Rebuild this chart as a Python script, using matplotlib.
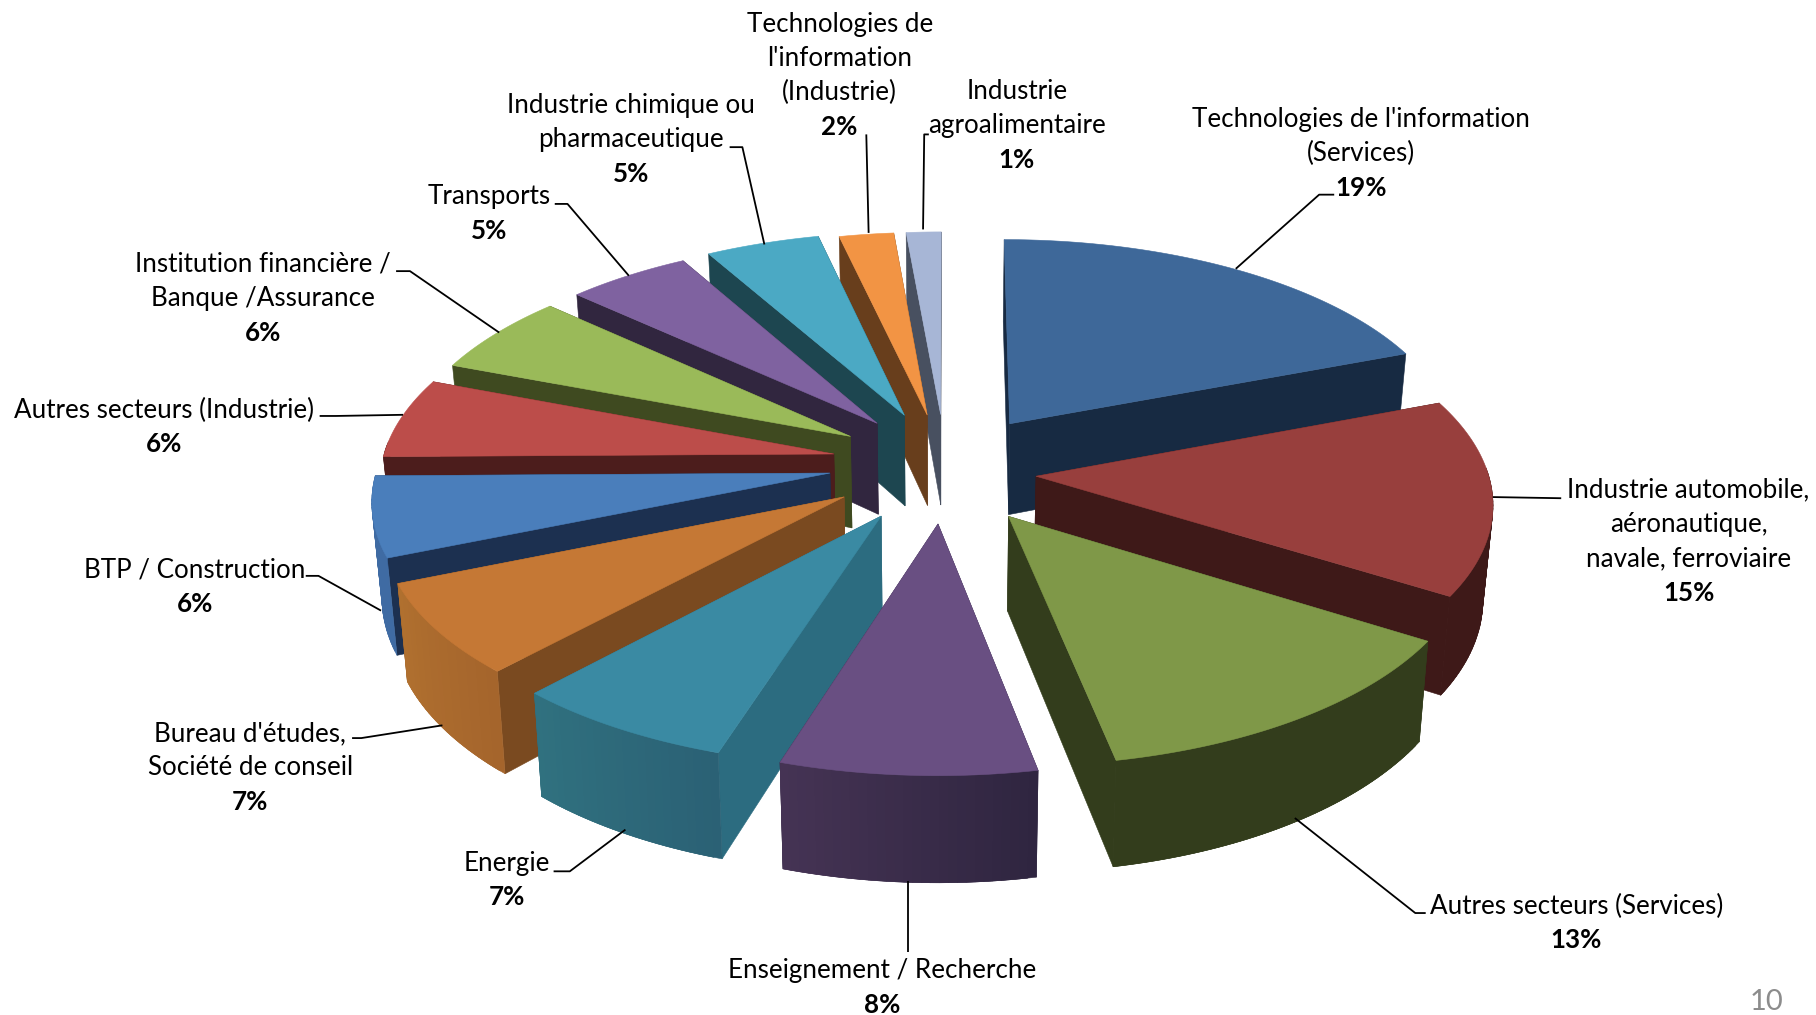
import numpy as np
import matplotlib
matplotlib.use("Agg")
import matplotlib.pyplot as plt
from matplotlib.colors import to_rgb
from matplotlib.patches import Polygon

# ---- data ----
sectors = [
    ["Technologies de l'information", "(Services)"],
    ["Industrie automobile,", "aéronautique,", "navale, ferroviaire"],
    ["Autres secteurs (Services)"],
    ["Enseignement / Recherche"],
    ["Energie"],
    ["Bureau d'études,", "Société de conseil"],
    ["BTP / Construction"],
    ["Autres secteurs (Industrie)"],
    ["Institution financière /", "Banque /Assurance"],
    ["Transports"],
    ["Industrie chimique ou", "pharmaceutique"],
    ["Technologies de", "l'information", "(Industrie)"],
    ["Industrie", "agroalimentaire"],
]
values = [19.2, 14.7, 13.0, 8.0, 7.0, 6.9, 6.0, 6.0, 6.0, 5.0, 4.6, 2.2, 1.4]

# ---- style ----
top_col = ["#3E6899", "#983F3D", "#7F9848", "#694F82", "#3A8AA3", "#C57835", "#4A7EBB",
           "#BC4D4A", "#9ABA59", "#7F62A0", "#4BA9C4", "#F29444", "#A7B6D6"]
cut_col = ["#172A42", "#3E1918", "#333D1C", "#2E2340", "#2C6C80", "#7A4A20", "#1C3050",
           "#4C1D1C", "#3F4A20", "#31263F", "#1D4650", "#683E1C", "#485060"]
rim_a = ["#2A4568", "#3E1918", "#333D1C", "#2F2540", "#2B6175", "#A5652C", "#3F6BA3",
         "#4C1D1C", "#3F4A20", "#31263F", "#1D4650", "#683E1C", "#485060"]
rim_b = ["#2A4568", "#3E1918", "#333D1C", "#453354", "#30717F", "#B0702F", "#3F6BA3",
         "#4C1D1C", "#3F4A20", "#31263F", "#1D4650", "#683E1C", "#485060"]

CX, CY = 808.0, 401.0
SCALE = 390.0
TILT = 0.47
PERSP = 0.11
EXPLODE = 0.225
DEPTH = 80.0
SHRINK = 0.982
nudge = [(15, -2), (-1, 6), (12, 10), (7, 9), (-2, 8), (-6, 4), (-5, -1), (-2, -2), (0, -3), (3, -4),
         (4, -5), (6, -3), (8, -3)]

label_pos = [
    (1175, 103), (1458, 423), (1361, 782), (762, 838), (438, 745), (216, 633), (168, 492),
    (142, 354), (227, 228), (422, 170), (545, 91), (725, 21), (878, 79),
]
leaders = [
    [(1152, 168), (1139, 168), (1067, 232)],
    [(1348, 430), (1289, 429)],
    [(1231, 788), (1222, 788), (1118, 706)],
    [(784, 822), (784, 760)],
    [(478, 752), (492, 752), (540, 716)],
    [(304, 637), (312, 637), (382, 626)],
    [(264, 497), (275, 497), (329, 527)],
    [(276, 359), (290, 359), (348, 358)],
    [(342, 234), (354, 234), (431, 287)],
    [(479, 176), (490, 176), (543, 238)],
    [(630, 127), (641, 127), (660, 211)],
    [(748, 116), (750, 201)],
    [(802, 116), (798, 116), (797, 198)],
]
LINE = 29.5

plt.rcParams["font.family"] = ["Lato", "DejaVu Sans"]
fig = plt.figure(figsize=(18.16, 10.15), dpi=100, facecolor="white")
ax = fig.add_axes([0, 0, 1, 1])
ax.set_xlim(0, 1568)
ax.set_ylim(876, 0)
ax.axis("off")


def project(X, Y, z=0.0):
    X = np.asarray(X, float)
    Y = np.asarray(Y, float)
    p = 1.0 / (1.0 + PERSP * Y)
    k = 1.0 - (1.0 - SHRINK) * z
    return CX + X * SCALE * p * k, CY - Y * TILT * SCALE * p + z * DEPTH * p


def face(xs, ys, color, zorder):
    ax.add_patch(Polygon(np.column_stack([xs, ys]), closed=True, facecolor=color,
                         edgecolor=color, linewidth=0.4, zorder=zorder))


fracs = np.array(values, float) / sum(values)
ends = np.cumsum(fracs) * 2 * np.pi
starts = ends - fracs * 2 * np.pi
mids = (starts + ends) / 2
order = np.argsort(-np.cos(mids))

for rank, i in enumerate(order):
    z0 = 10 + rank * 10
    a0, a1, m = starts[i], ends[i], mids[i]
    ox, oy = EXPLODE * np.sin(m), EXPLODE * np.cos(m)
    dx, dy = nudge[i]
    th = np.linspace(a0, a1, max(6, int((a1 - a0) * 60)))
    RX, RY = ox + np.sin(th), oy + np.cos(th)

    def proj(X, Y, z):
        x, y = project(X, Y, z)
        return x + dx, y + dy

    # cut faces
    for ang in (a0, a1):
        ex, ey = ox + np.sin(ang), oy + np.cos(ang)
        x1, y1 = proj([ox, ex], [oy, ey], 0)
        x2, y2 = proj([ex, ox], [ey, oy], 1)
        face(np.r_[x1, x2], np.r_[y1, y2], cut_col[i], z0)

    # outer rim: only the part that faces the viewer, shaded along the arc
    c0, c1 = np.array(to_rgb(rim_a[i])), np.array(to_rgb(rim_b[i]))
    n = len(th) - 1
    for j in range(n):
        if np.cos(th[j]) > 0.03 and np.cos(th[j + 1]) > 0.03:
            continue
        t = j / max(1, n - 1)
        e = min(j + 3, len(th))
        x1, y1 = proj(RX[j:e], RY[j:e], 0)
        x2, y2 = proj(RX[j:e][::-1], RY[j:e][::-1], 1)
        face(np.r_[x1, x2], np.r_[y1, y2], tuple(c0 + (c1 - c0) * t), z0 + 1 + 0.001 * j)

    # top
    tx, ty = proj(np.r_[ox, RX], np.r_[oy, RY], 0)
    face(tx, ty, top_col[i], z0 + 2)

for pts in leaders:
    xs, ys = zip(*pts)
    ax.plot(xs, ys, color="black", lw=1.3, zorder=300, solid_capstyle="butt")

for lines, (x, y), v in zip(sectors, label_pos, values):
    for n, s in enumerate(lines):
        ax.text(x, y + n * LINE, s, ha="center", va="center", fontsize=18.7, color="black", zorder=400)
    ax.text(x, y + len(lines) * LINE, f"{v:.0f}%", ha="center", va="center", fontsize=18.7,
            fontweight="bold", color="black", zorder=400)

ax.text(1525, 865, "10", ha="center", va="center", fontsize=21, color="#8C8C8C", zorder=400)

fig.savefig("out.png", dpi=100, facecolor="white")
